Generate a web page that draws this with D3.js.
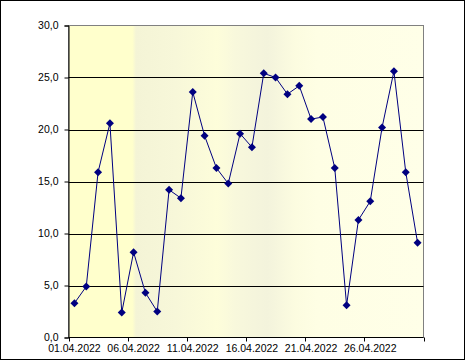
<!DOCTYPE html>
<html lang="en">
<head>
  <meta charset="UTF-8" />
  <title>Daily values, April 2022</title>
  <script src="https://d3js.org/d3.v7.min.js"></script>
  <style>
    body { margin: 0; padding: 0; background: #fff; }
    svg { display: block; font-family: 'Liberation Sans', Arial, sans-serif; }
  </style>
</head>
<body>
  <svg width="466" height="361"></svg>

  <script>
    // data
    const dates = d3.range(1, 31).map(d => String(d).padStart(2, "0") + ".04.2022");
    const values = [3.3, 4.9, 15.9, 20.6, 2.4, 8.2, 4.3, 2.5, 14.2, 13.4,
                    23.6, 19.4, 16.3, 14.8, 19.6, 18.3, 25.4, 25.0, 23.4, 24.2,
                    21.0, 21.2, 16.3, 3.1, 11.3, 13.1, 20.2, 25.6, 15.9, 9.1];
    const yTicks = [0, 5, 10, 15, 20, 25, 30];
    const labelEvery = 5;

    const svg = d3.select("svg");
    const plot = { left: 68.5, top: 25.5, right: 423.5, bottom: 337.5 };

    // outer frame
    svg.append("rect")
      .attr("x", 0.5).attr("y", 0.5)
      .attr("width", 464).attr("height", 359)
      .attr("fill", "#fff").attr("stroke", "#000");

    // plot background gradient
    const grad = svg.append("defs").append("linearGradient")
      .attr("id", "bg").attr("x1", "0%").attr("x2", "100%").attr("y1", "0%").attr("y2", "0%");
    [[0, "#ffffcc"], [0.18, "#ffffcc"], [0.19, "#f4f4d6"], [0.3, "#f7f7d9"],
     [0.42, "#fdfdda"], [0.47, "#f8f8dc"], [0.56, "#f3f3dc"], [0.64, "#fcfce0"],
     [0.7, "#fefee4"], [1, "#ffffe8"]]
      .forEach(([o, c]) => grad.append("stop").attr("offset", o).attr("stop-color", c));

    svg.append("rect")
      .attr("x", plot.left).attr("y", plot.top)
      .attr("width", plot.right - plot.left).attr("height", plot.bottom - plot.top)
      .attr("fill", "url(#bg)")
      .attr("stroke", "#808080");

    const x = d3.scaleBand().domain(dates).range([plot.left, plot.right]);
    const y = d3.scaleLinear().domain([0, 30]).range([plot.bottom, plot.top]);

    // gridlines
    svg.append("g").selectAll("line")
      .data(yTicks.filter(t => t > 0 && t < 30))
      .join("line")
      .attr("x1", plot.left).attr("x2", plot.right)
      .attr("y1", d => Math.round(y(d)) + 0.5).attr("y2", d => Math.round(y(d)) + 0.5)
      .attr("stroke", "#000");

    // y axis
    const yAxis = svg.append("g")
      .attr("transform", `translate(${plot.left},0)`)
      .call(d3.axisLeft(y).tickValues(yTicks).tickSize(4).tickPadding(6)
        .tickFormat(d => d3.format(".1f")(d).replace(".", ",")));
    yAxis.select(".domain").attr("stroke", "#000");
    yAxis.selectAll("text").attr("font-size", 10.5).attr("fill", "#000")
      .attr("font-family", "'Liberation Sans', Arial, sans-serif");

    // x axis: ticks on category boundaries every 5 days, labels centred under category
    const boundaries = d3.range(0, dates.length + 1, labelEvery);
    svg.append("line")
      .attr("x1", plot.left).attr("x2", plot.right)
      .attr("y1", plot.bottom).attr("y2", plot.bottom)
      .attr("stroke", "#000");
    svg.append("g").selectAll("line")
      .data(boundaries)
      .join("line")
      .attr("x1", i => Math.round(plot.left + i * x.step()) + 0.5)
      .attr("x2", i => Math.round(plot.left + i * x.step()) + 0.5)
      .attr("y1", plot.bottom).attr("y2", plot.bottom + 4)
      .attr("stroke", "#000");
    svg.append("g").selectAll("text")
      .data(dates.filter((d, i) => i % labelEvery === 0))
      .join("text")
      .attr("x", d => x(d) + x.bandwidth() / 2)
      .attr("y", 352)
      .attr("text-anchor", "middle")
      .attr("font-size", 10.5)
      .attr("fill", "#000")
      .text(d => d);

    // series
    const cx = d => x(d) + x.bandwidth() / 2;
    svg.append("path")
      .datum(values)
      .attr("fill", "none")
      .attr("stroke", "#000080")
      .attr("stroke-width", 1)
      .attr("d", d3.line().x((v, i) => cx(dates[i])).y(v => y(v)));

    svg.append("g").selectAll("path")
      .data(values)
      .join("path")
      .attr("transform", (v, i) => `translate(${cx(dates[i])},${y(v)})`)
      .attr("d", "M0,-4L4,0L0,4L-4,0Z")
      .attr("fill", "#000080");
  </script>
</body>
</html>
